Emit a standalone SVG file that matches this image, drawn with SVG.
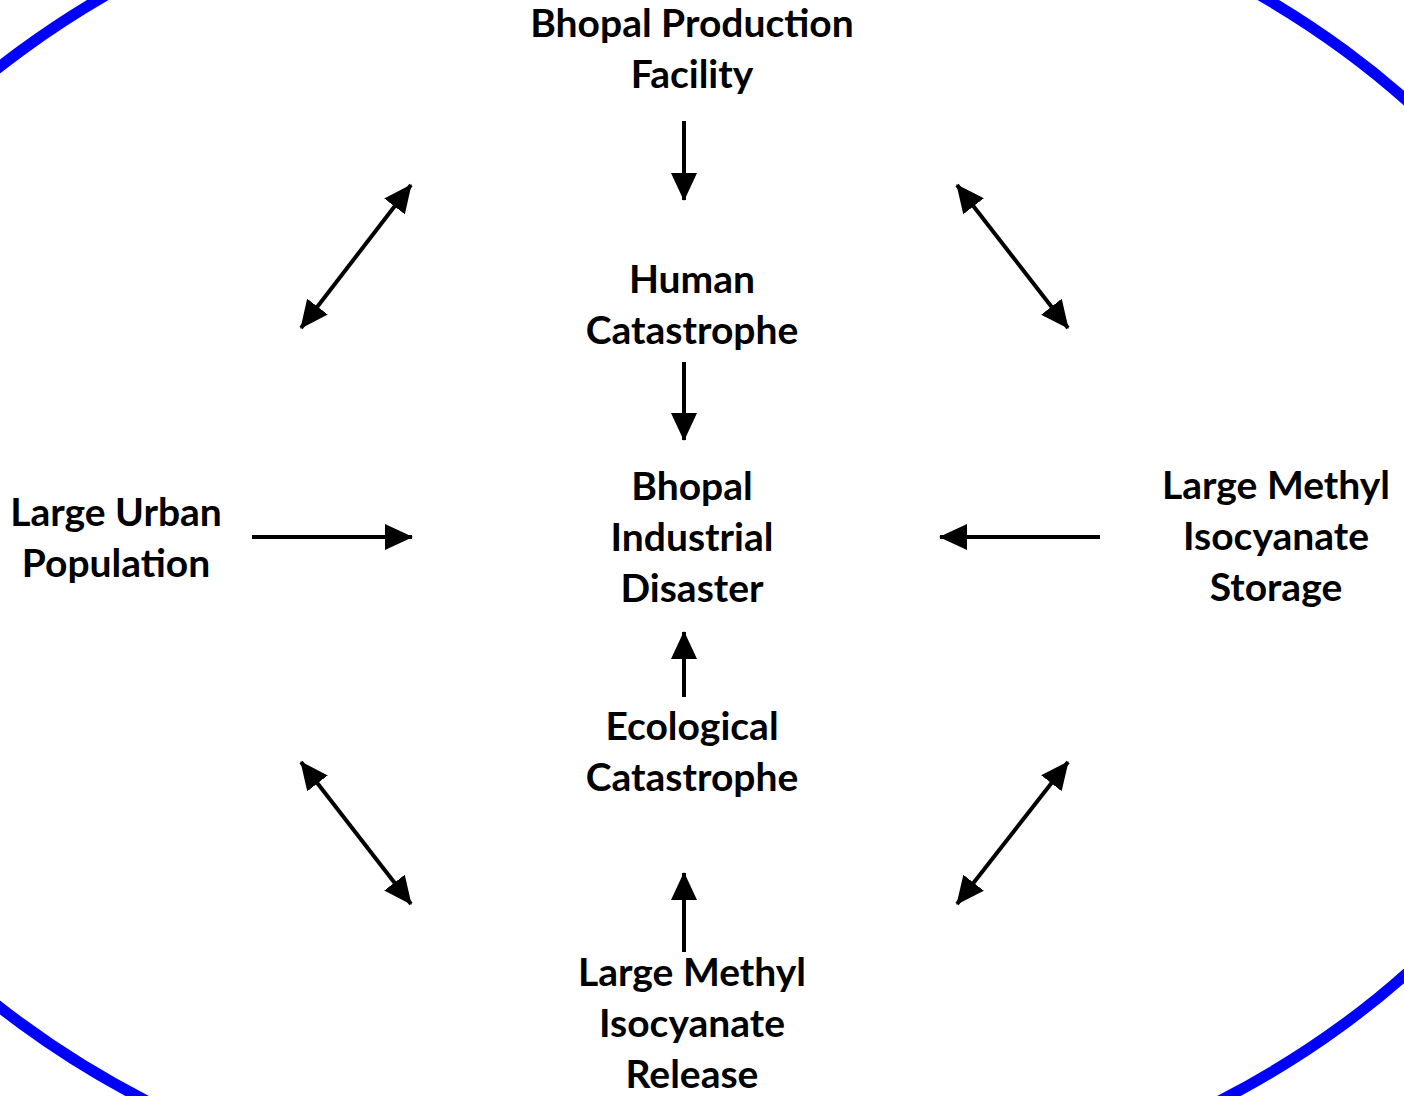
<svg xmlns="http://www.w3.org/2000/svg" width="1404" height="1096" viewBox="0 0 1404 1096">
<defs>
<marker id="ah" viewBox="0 0 28 26" refX="27" refY="13" markerWidth="28" markerHeight="26" markerUnits="userSpaceOnUse" orient="auto-start-reverse">
<path d="M0,0 L28,13 L0,26 Z" fill="#000"/>
</marker>
<style>
.lbl{font-family:Lato,"Open Sans","Liberation Sans",sans-serif;font-weight:bold;font-size:39px;fill:#000;text-anchor:middle}
.c{stroke:#000;stroke-width:4;fill:none}
</style>
</defs>
<rect width="1404" height="1096" fill="#fff"/>
<ellipse id="boundary" cx="683" cy="537" rx="936" ry="688" fill="none" stroke="#0000ff" stroke-width="11"/>
<g id="n-facility"><text class="lbl" x="692" y="37">Bhopal Production</text><text class="lbl" x="692" y="88">Facility</text></g>
<g id="n-human"><text class="lbl" x="692" y="293">Human</text><text class="lbl" x="692" y="344">Catastrophe</text></g>
<g id="n-disaster"><text class="lbl" x="692" y="500">Bhopal</text><text class="lbl" x="692" y="551">Industrial</text><text class="lbl" x="692" y="602">Disaster</text></g>
<g id="n-eco"><text class="lbl" x="692" y="740">Ecological</text><text class="lbl" x="692" y="791">Catastrophe</text></g>
<g id="n-release"><text class="lbl" x="692" y="986">Large Methyl</text><text class="lbl" x="692" y="1037">Isocyanate</text><text class="lbl" x="692" y="1088">Release</text></g>
<g id="n-urban"><text class="lbl" x="116" y="526">Large Urban</text><text class="lbl" x="116" y="577">Population</text></g>
<g id="n-storage"><text class="lbl" x="1276" y="499">Large Methyl</text><text class="lbl" x="1276" y="550">Isocyanate</text><text class="lbl" x="1276" y="601">Storage</text></g>
<g id="connectors">
<line class="c" x1="684" y1="121" x2="684" y2="200" marker-end="url(#ah)"/>
<line class="c" x1="684" y1="362" x2="684" y2="440" marker-end="url(#ah)"/>
<line class="c" x1="684" y1="697" x2="684" y2="632" marker-end="url(#ah)"/>
<line class="c" x1="684" y1="952" x2="684" y2="873" marker-end="url(#ah)"/>
<line class="c" x1="252" y1="537" x2="412" y2="537" marker-end="url(#ah)"/>
<line class="c" x1="1100" y1="537" x2="940" y2="537" marker-end="url(#ah)"/>
<line class="c" x1="301" y1="328" x2="411" y2="185" marker-start="url(#ah)" marker-end="url(#ah)"/>
<line class="c" x1="957" y1="185" x2="1068" y2="328" marker-start="url(#ah)" marker-end="url(#ah)"/>
<line class="c" x1="301" y1="762" x2="411" y2="904" marker-start="url(#ah)" marker-end="url(#ah)"/>
<line class="c" x1="1068" y1="762" x2="957" y2="904" marker-start="url(#ah)" marker-end="url(#ah)"/>
</g>
</svg>
